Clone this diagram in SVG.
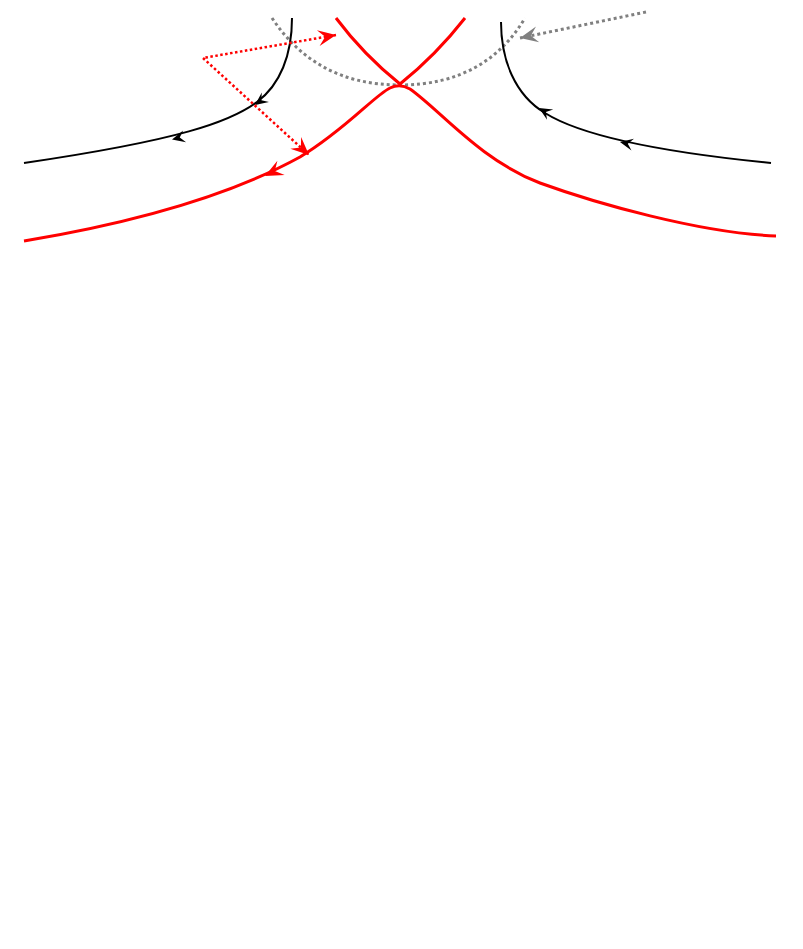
<svg xmlns="http://www.w3.org/2000/svg" xmlns:xlink="http://www.w3.org/1999/xlink" width="803" height="949" viewBox="0 0 803 949">
<style>
.blk{fill:none;stroke:#000;stroke-width:2}
.red{fill:none;stroke:#f00;stroke-width:3}
.gdot{fill:none;stroke:#808080;stroke-width:3;stroke-dasharray:3 3}
.rdot{fill:none;stroke:#f00;stroke-width:2.5;stroke-dasharray:2.5 2.5}
</style>
<defs>
<path id="ahB" d="M0,0 L-13,-6 L-8,0 L-13,6 Z" fill="#000"/>
<path id="ahR" d="M0,0 L-18,-8 L-11,0 L-18,8 Z" fill="#f00"/>
<marker id="mR" viewBox="-19 -9 20 18" refX="0" refY="0" markerWidth="20" markerHeight="18" markerUnits="userSpaceOnUse" orient="auto-start-reverse">
<path d="M0,0 L-18,-8 L-11,0 L-18,8 Z" fill="#f00"/>
</marker>
<marker id="mG" viewBox="-19 -9 20 18" refX="0" refY="0" markerWidth="20" markerHeight="18" markerUnits="userSpaceOnUse" orient="auto">
<path d="M0,0 L-18,-8 L-11,0 L-18,8 Z" fill="#808080"/>
</marker>
</defs>
<g id="connectors">
<g id="gray-dotted-curve"><path class="gdot" d="M272,18 C300,60 340,85 400,85 C460,85 500,60 525,18"/></g>
<g id="gray-arrow"><path class="gdot" d="M646,12 L520,38" marker-end="url(#mG)"/></g>
<g id="black-left">
<path class="blk" d="M292,18 C292,55 280,85 257,102 C230,122 180,140 24,163"/>
<use xlink:href="#ahB" transform="translate(255,105) rotate(143)"/>
<use xlink:href="#ahB" transform="translate(172,139.5) rotate(166)"/>
</g>
<g id="black-right">
<path class="blk" d="M771,163 C660,152 580,135 545,113 C515,95 501,60 501,22"/>
<use xlink:href="#ahB" transform="translate(539,108) rotate(211)"/>
<use xlink:href="#ahB" transform="translate(620,142) rotate(192)"/>
</g>
<g id="red-upper"><path class="red" d="M336,18 C360,50 385,72 400,84 C415,72 440,50 465,18"/></g>
<g id="red-lower">
<path class="red" d="M24,241 C150,220 240,190 300,157 C345,130 375,95 390,88 Q400,83 410,89 C440,110 480,160 540,183 C595,203 700,233 776,236"/>
<use xlink:href="#ahR" transform="translate(265,176) rotate(153)"/>
</g>
<g id="red-dotted"><path class="rdot" d="M336,35 L203,58 L309,155" marker-start="url(#mR)" marker-end="url(#mR)"/></g>
</g>
</svg>
